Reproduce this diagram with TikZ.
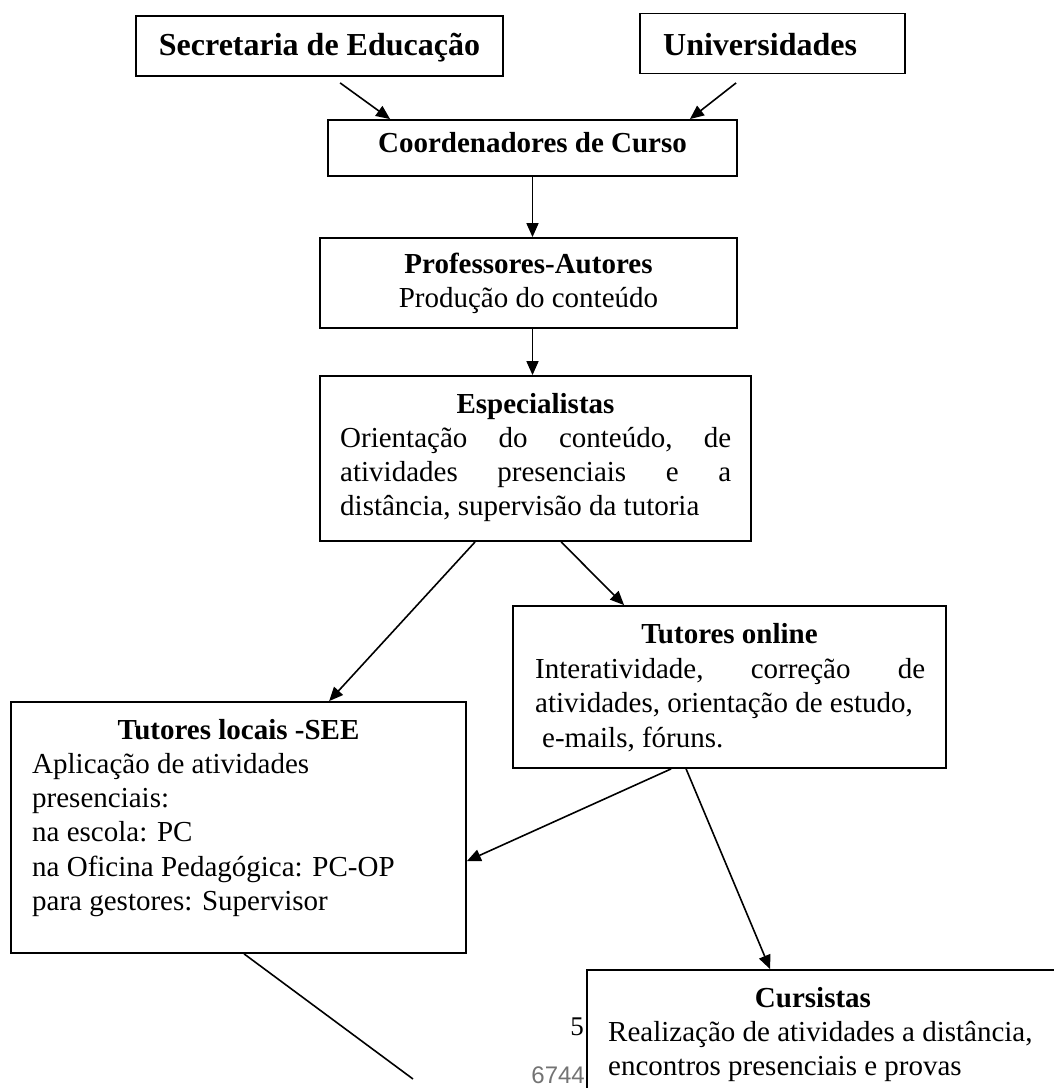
\documentclass[tikz,border=0pt]{standalone}
\usepackage{fontspec}
\setmainfont{Liberation Serif}
\newfontfamily\pgnumfont{Liberation Sans}
\usetikzlibrary{arrows.meta}
\begin{document}
\begin{tikzpicture}[x=1pt,y=-1pt,
  box/.style={draw,line width=1.8pt,rectangle,inner sep=0pt},
  conn/.style={line width=1.6pt,-{Triangle[length=14pt,width=12pt]}},
  plainline/.style={line width=1.6pt},
  txt/.style={inner sep=0pt,font=\fontsize{29}{34}\selectfont},
  ttl/.style={inner sep=0pt,font=\fontsize{29}{34}\selectfont\bfseries},
  bigttl/.style={inner sep=0pt,font=\fontsize{32}{38}\selectfont\bfseries}]
\useasboundingbox (0,0) rectangle (1054,1088);
\clip (0,0) rectangle (1054,1088);

% boxes
\node[box,minimum width=367pt,minimum height=60pt] (sec) at (319.5,46) {};
\node[box,minimum width=265pt,minimum height=60pt] (uni) at (772.5,43.5) {};
\node[box,minimum width=409pt,minimum height=56pt] (coo) at (532.5,148) {};
\node[box,minimum width=417pt,minimum height=90pt] (pro) at (528.5,283) {};
\node[box,minimum width=431pt,minimum height=165pt] (esp) at (535.5,458.5) {};
\node[box,minimum width=433pt,minimum height=162pt] (onl) at (729.5,687) {};
\node[box,minimum width=455pt,minimum height=251pt] (loc) at (238.5,827.5) {};
\node[box,minimum width=483pt,minimum height=130pt] (cur) at (828.5,1035) {};

% texts
\node[bigttl,anchor=base] (secT) at (319.5,55) {Secretaria de Educação};
\node[bigttl,anchor=base west] (uniT) at (663,55) {Universidades};
\node[ttl,anchor=base] (cooT) at (532.5,152) {Coordenadores de Curso};

\node[ttl,anchor=base] (proT) at (528.5,273) {Professores-Autores};
\node[txt,anchor=base] (proL) at (528.5,307) {Produção do conteúdo};

\node[ttl,anchor=base] (espT) at (535.5,413) {Especialistas};
\node[txt,anchor=base west] (esp1) at (340,447.5) {\hbox to 391pt{Orientação\hfill do\hfill conteúdo,\hfill de}};
\node[txt,anchor=base west] (esp2) at (340,481.5) {\hbox to 391pt{atividades\hfill presenciais\hfill e\hfill a}};
\node[txt,anchor=base west] (esp3) at (340,515.5) {distância, supervisão da tutoria};

\node[ttl,anchor=base] (onlT) at (729.5,643) {Tutores online};
\node[txt,anchor=base west] (onl1) at (535,678) {\hbox to 390pt{Interatividade,\hfill correção\hfill de}};
\node[txt,anchor=base west] (onl2) at (535,712) {atividades, orientação de estudo,};
\node[txt,anchor=base west] (onl3) at (542,747) {e-mails, fóruns.};

\node[ttl,anchor=base] (locT) at (238.5,739) {Tutores locais -SEE};
\node[txt,anchor=base west] (loc1) at (32,773.3) {Aplicação de atividades};
\node[txt,anchor=base west] (loc2) at (32,807.5) {presenciais:};
\node[txt,anchor=base west] (loc3) at (32,841.8) {na escola: PC};
\node[txt,anchor=base west] (loc4) at (32,876) {na Oficina Pedagógica: PC-OP};
\node[txt,anchor=base west] (loc5) at (32,910.3) {para gestores: Supervisor};

\node[ttl,anchor=base] (curT) at (813,1007) {Cursistas};
\node[txt,anchor=base west] (cur1) at (608,1041) {Realização de atividades a distância,};
\node[txt,anchor=base west] (cur2) at (608,1075) {encontros presenciais e provas};

\node[inner sep=0pt,anchor=base east,font=\fontsize{27}{30}\selectfont] (pg5) at (584,1035) {5};
\node[inner sep=0pt,anchor=base east,text=black!55,font=\pgnumfont\fontsize{24}{28}\selectfont] (pgn) at (585,1083) {6744};

% connectors
\draw[conn] ([shift={(205,6)}]sec.south west) -- ([shift={(63,0)}]coo.north west);
\draw[conn] ([shift={(97,8.5)}]uni.south west) -- ([shift={(-48,0)}]coo.north east);
\draw[conn] (coo.south) -- (coo.south |- pro.north);
\draw[conn] (coo.south |- pro.south) -- (coo.south |- esp.north);
\draw[conn] ([shift={(156,0)}]esp.south west) -- ([shift={(319,0)}]loc.north west);
\draw[conn] ([shift={(242,0)}]esp.south west) -- ([shift={(112,0)}]onl.north west);
\draw[conn] ([shift={(159,0)}]onl.south west) -- ([shift={(0,160)}]loc.north east);
\draw[conn] ([shift={(174,0)}]onl.south west) -- ([shift={(184,0)}]cur.north west);
\coordinate (lend) at (413,1079);
\draw[plainline] ([shift={(234,0)}]loc.south west) -- (lend);
\end{tikzpicture}
\end{document}
